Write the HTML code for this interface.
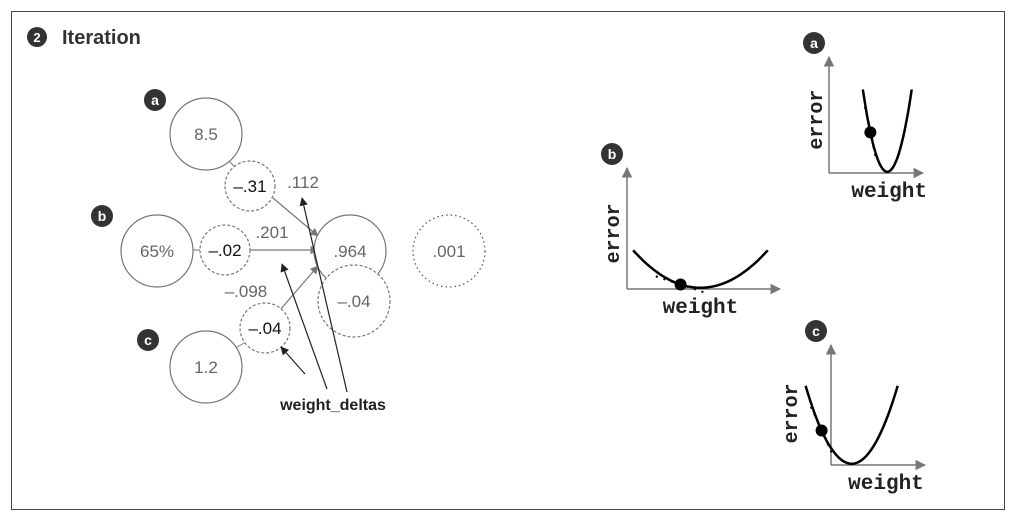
<!DOCTYPE html>
<html><head><meta charset="utf-8"><style>
body{margin:0;background:#fff}
svg{display:block;font-family:"Liberation Sans",sans-serif}
.mono{font-family:"Liberation Mono",monospace;font-weight:bold}
</style></head><body>
<svg id="s" width="1017" height="524" viewBox="0 0 1017 524">
<defs>
<marker id="ag" viewBox="0 0 10 10" refX="9" refY="5" markerWidth="7" markerHeight="7" orient="auto"><path d="M0,0L10,5L0,10z" fill="#777"/></marker>
<marker id="ak" viewBox="0 0 10 10" refX="9" refY="5" markerWidth="7" markerHeight="7" orient="auto"><path d="M0,0L10,5L0,10z" fill="#222"/></marker>
</defs>
<rect x="11.5" y="11.5" width="993" height="498" fill="none" stroke="#444"/>
<g>
<circle cx="37" cy="37" r="10" fill="#333"/><text x="37" y="42" fill="#fff" font-size="13" font-weight="bold" text-anchor="middle">2</text>
<text x="62" y="44" font-size="20" font-weight="bold" fill="#333">Iteration</text>
</g>
<g id="net"></g>
<g id="plots"></g>
</svg>
<script>
const NS="http://www.w3.org/2000/svg";
function mk(p,t,a){const e=document.createElementNS(NS,t);for(const k in a)e.setAttribute(k,a[k]);p.appendChild(e);return e;}
const net=document.getElementById('net');
function badge(p,x,y,l){const g=mk(p,'g',{});


mk(g,'circle',{cx:x,cy:y,r:11,fill:'#333'});const t=mk(g,'text',{x:x,y:y+5,fill:'#fff','font-size':14,'font-weight':'bold','text-anchor':'middle'});t.textContent=l;}
function node(x,y,r,label,dash,color,name){const g=mk(net,'g',{});


mk(g,'circle',{cx:x,cy:y,r:r,fill:'#fff',stroke:dash==='dot'?'#555':'#777','stroke-width':1.2,'stroke-dasharray':dash==='dot'?'1.5 3':dash==='dash'?'3 2':'none'});
const t=mk(g,'text',{x:x,y:y+6,'font-size':17,'text-anchor':'middle',fill:color});t.textContent=label;}
function txt(x,y,s,name){const t=mk(net,'text',{x:x,y:y,'font-size':17,fill:'#666','text-anchor':'middle'});t.textContent=s;

}
function line(x1,y1,x2,y2,m,c){mk(net,'line',{x1,y1,x2,y2,stroke:c,'stroke-width':1.2,'marker-end':'url(#'+m+')'});}
mk(net,'line',{x1:230,y1:162,x2:238,y2:170,stroke:'#777'});
mk(net,'line',{x1:193,y1:250,x2:200,y2:250,stroke:'#777'});
mk(net,'line',{x1:232,y1:350,x2:246,y2:342,stroke:'#777'});
line(273,198,318,236,'ag','#777');
line(250,250,318,250,'ag','#777');
line(280,310,318,266,'ag','#777');
node(206,134,36,'8.5','solid','#666','input-a');
node(157,251,36,'65%','solid','#666','input-b');
node(206,367,36,'1.2','solid','#666','input-c');
node(350,251,36,'.964','solid','#666','prediction');
node(354,301,36,'\u2013.04','dash','#666','delta');
node(449,251,36,'.001','dot','#666','error');
node(250,186,25,'\u2013.31','dash','#111','weight-delta-a');
node(225,250,25,'\u2013.02','dash','#111','weight-delta-b');
node(265,328,25,'\u2013.04','dash','#111','weight-delta-c');
txt(303,188,'.112','weight-a');
txt(272,238,'.201','weight-b');
txt(246,297,'\u2013.098','weight-c');
line(305,374,281,347,'ak','#222');
line(327,389,282,264,'ak','#222');
line(347,392,302,198,'ak','#222');
const wd=mk(net,'text',{x:333,y:410,'font-size':16,'font-weight':'bold','text-anchor':'middle',fill:'#222'});wd.textContent='weight_deltas';


badge(net,155,100,'a');badge(net,102,216,'b');badge(net,148,340,'c');

// error plots
const plotLabels=['a','b','c'];
const curveMinW=[0.62,0.48,0.22];
const curveHalfWidth=[0.26,0.44,0.49];
const curveTop=[0.72,0.32,0.66];
const dotW=[0.44,0.35,-0.10];
const plotOrigin=[[829,173],[627,289],[831,465]];
const plotSize=[[94,116],[153,121],[94,120]];
const weightLabelX=[0.64,0.48,0.585];
const errorLabelDX=[-14,-15,-41];
const errorLabelY=[0.46,0.46,0.43];
const plots=document.getElementById('plots');
plotLabels.forEach((l,i)=>{
  const [ox,oy]=plotOrigin[i],[w,h]=plotSize[i];
  const g=mk(plots,'g',{});
  
  
  const X=v=>ox+v*w, Y=v=>oy-v*h;
  mk(g,'line',{x1:ox,y1:oy,x2:ox,y2:oy-h,stroke:'#777','stroke-width':1.5,'marker-end':'url(#ag)'});
  mk(g,'line',{x1:ox,y1:oy,x2:ox+w,y2:oy,stroke:'#777','stroke-width':1.5,'marker-end':'url(#ag)'});
  const m=curveMinW[i],hw=curveHalfWidth[i],tp=curveTop[i];
  const f=x=>0.01+(tp-0.01)*Math.pow((x-m)/hw,2);
  let d='';for(let k=0;k<=40;k++){const x=m-hw+2*hw*k/40;d+=(k?'L':'M')+X(x).toFixed(1)+','+Y(f(x)).toFixed(1);}
  const c=mk(g,'path',{d:d,fill:'none',stroke:'#000','stroke-width':2.5});
  
  
  const dw=dotW[i],dy=f(dw),sl=2*(tp-0.01)*(dw-m)/(hw*hw);
  // tangent direction in pixel space
  let vx=w, vy=-sl*h; const n=Math.hypot(vx,vy); vx/=n; vy/=n;
  const L=26;
  mk(g,'line',{x1:X(dw)-vx*L,y1:Y(dy)-vy*L,x2:X(dw)+vx*L,y2:Y(dy)+vy*L,stroke:'#000','stroke-width':2,'stroke-dasharray':'2 6'});
  const dot=mk(g,'circle',{cx:X(dw),cy:Y(dy),r:6,fill:'#000'});
  
  
  const xl=mk(g,'text',{x:ox+w*weightLabelX[i],y:oy+24,'font-size':21,'text-anchor':'middle',class:'mono',fill:'#222'});xl.textContent='weight';
  
  
  const ex=ox+errorLabelDX[i]+7,ey=oy-h*errorLabelY[i];
  const yl=mk(g,'text',{x:ex,y:ey,'font-size':20,'text-anchor':'middle',class:'mono',fill:'#222',transform:'rotate(-90 '+ex+' '+ey+')'});yl.textContent='error';
  
  
  badge(g,ox-15,oy-h-14,l);
});
</script>
</body></html>
